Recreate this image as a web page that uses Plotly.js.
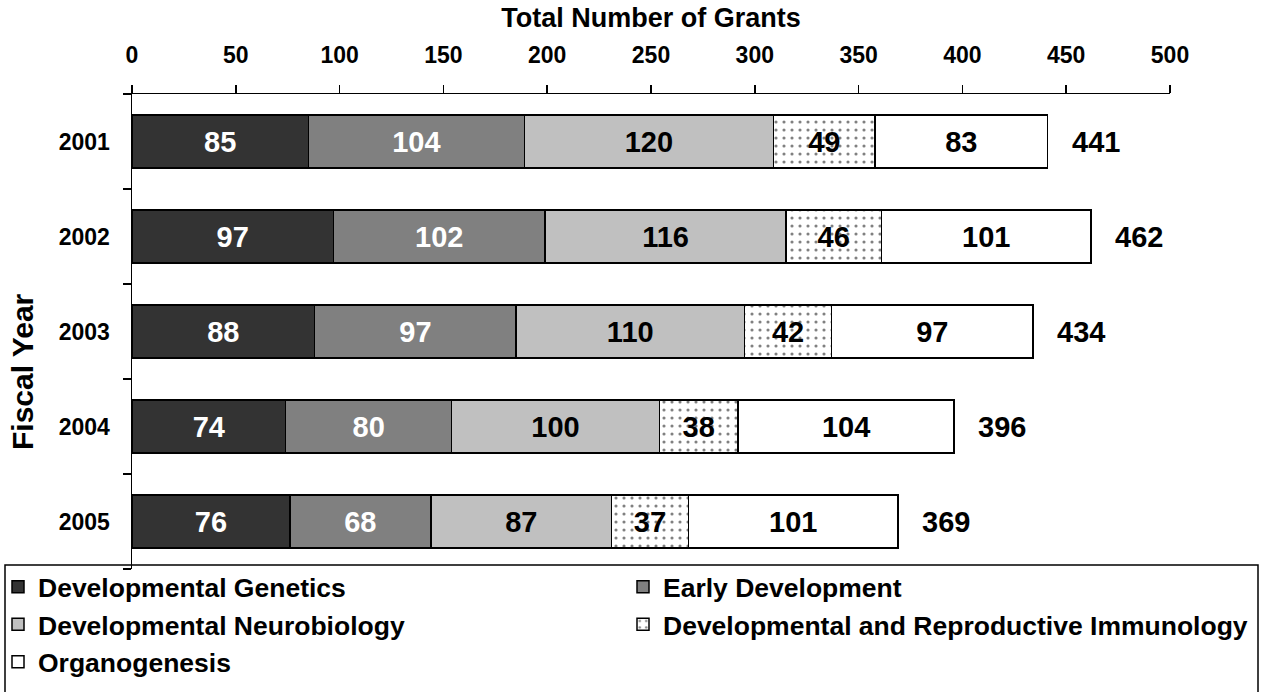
<!DOCTYPE html>
<html>
<head>
<meta charset="utf-8">
<script src="https://cdn.plot.ly/plotly-3.0.1.min.js"></script>
<style>html,body{margin:0;padding:0;background:#fff;}#chart{width:1263px;height:692px;}</style>
</head>
<body>
<div id="chart"></div>
<script>
const years = ['2001', '2002', '2003', '2004', '2005'];
const developmentalGenetics = [85, 97, 88, 74, 76];
const earlyDevelopment = [104, 102, 97, 80, 68];
const developmentalNeurobiology = [120, 116, 110, 100, 87];
const reproductiveImmunology = [49, 46, 42, 38, 37];
const organogenesis = [83, 101, 97, 104, 101];
const totals = [441, 462, 434, 396, 369];

const FAM = '"Liberation Sans", Arial, sans-serif';
const W = 1263, H = 692;
const L = 132, R = 93, T = 94, B = 123;
const pw = W - L - R, ph = H - T - B;
const px2x = p => (p - L) / pw;
const py2y = p => (H - B - p) / ph;
const yOrder = years.slice().reverse();

function barTrace(name, vals, color, textColor, legend, pattern) {
  const m = { color: color, line: { color: '#000', width: 1.5 } };
  if (pattern) m.pattern = pattern;
  return {
    type: 'bar', orientation: 'h', name: name,
    x: vals, y: years,
    marker: m,
    text: vals.map(String), textposition: 'inside', insidetextanchor: 'middle',
    constraintext: 'none', textangle: 0,
    textfont: { family: FAM, size: 29, color: textColor, weight: 'bold' },
    legend: legend, legendgroup: name
  };
}

const data = [
  barTrace('Developmental Genetics', developmentalGenetics, '#333333', '#ffffff', 'legend'),
  barTrace('Early Development', earlyDevelopment, '#808080', '#ffffff', 'legend2'),
  barTrace('Developmental Neurobiology', developmentalNeurobiology, '#c0c0c0', '#000000', 'legend'),
  barTrace('Developmental and Reproductive Immunology', reproductiveImmunology, '#ffffff', '#000000', 'legend2',
    { shape: '.', fgcolor: '#808080', bgcolor: '#ffffff', size: 8, solidity: 0.12 }),
  barTrace('Organogenesis', organogenesis, '#ffffff', '#000000', 'legend')
];

const annotations = totals.map((t, i) => ({
  x: t, y: yOrder.indexOf(years[i]), xref: 'x', yref: 'y', text: String(t),
  xanchor: 'left', yanchor: 'middle', xshift: 22, showarrow: false,
  font: { family: FAM, size: 29, color: '#000', weight: 'bold' }
}));
annotations.push({
  xref: 'paper', yref: 'paper', x: px2x(22), y: py2y(372),
  text: 'Fiscal Year', textangle: -90, showarrow: false,
  xanchor: 'center', yanchor: 'middle',
  font: { family: FAM, size: 30, color: '#000', weight: 'bold' }
});

const legendCommon = {
  xref: 'paper', yref: 'paper', yanchor: 'top', xanchor: 'left',
  orientation: 'v', traceorder: 'grouped', tracegroupgap: 0,
  bgcolor: 'rgba(0,0,0,0)', borderwidth: 0,
  font: { family: FAM, size: 26.5, color: '#000', weight: 'bold' }
};

const layout = {
  width: W, height: H,
  margin: { l: L, r: R, t: T, b: B, pad: 0, autoexpand: false },
  paper_bgcolor: '#fff', plot_bgcolor: '#fff',
  barmode: 'stack', bargap: 0.44,
  font: { family: FAM, size: 24, color: '#000', weight: 'bold' },
  showlegend: true,
  legend: Object.assign({}, legendCommon, { x: px2x(-2), y: py2y(563) }),
  legend2: Object.assign({}, legendCommon, { x: px2x(623), y: py2y(563) }),
  xaxis: {
    side: 'top', range: [0, 500], tick0: 0, dtick: 50, autorange: false,
    ticks: 'outside', ticklen: 8, tickwidth: 1.5, tickcolor: '#000',
    ticklabelstandoff: 12,
    showline: true, linecolor: '#000', linewidth: 1.5,
    showgrid: false, zeroline: false, automargin: false,
    tickfont: { family: FAM, size: 23, color: '#000', weight: 'bold' },
    title: { text: 'Total Number of Grants', standoff: 7,
      font: { family: FAM, size: 27, color: '#000', weight: 'bold' } }
  },
  yaxis: {
    type: 'category', categoryorder: 'array', categoryarray: yOrder,
    range: [-0.5, 4.5], autorange: false, automargin: false,
    ticks: 'outside', tickson: 'boundaries', ticklen: 8, tickwidth: 1.5, tickcolor: '#000',
    ticklabelstandoff: 16,
    showline: true, linecolor: '#000', linewidth: 1.5,
    showgrid: false, zeroline: false,
    tickfont: { family: FAM, size: 23, color: '#000', weight: 'bold' }
  },
  shapes: [{
    type: 'rect', xref: 'paper', yref: 'paper',
    x0: px2x(5), x1: px2x(1258), y0: py2y(565), y1: py2y(705),
    line: { color: '#000', width: 1.5 }, fillcolor: 'rgba(0,0,0,0)', layer: 'above'
  }],
  annotations: annotations
};

Plotly.newPlot('chart', data, layout, { displayModeBar: false, staticPlot: true });
</script>
</body>
</html>
